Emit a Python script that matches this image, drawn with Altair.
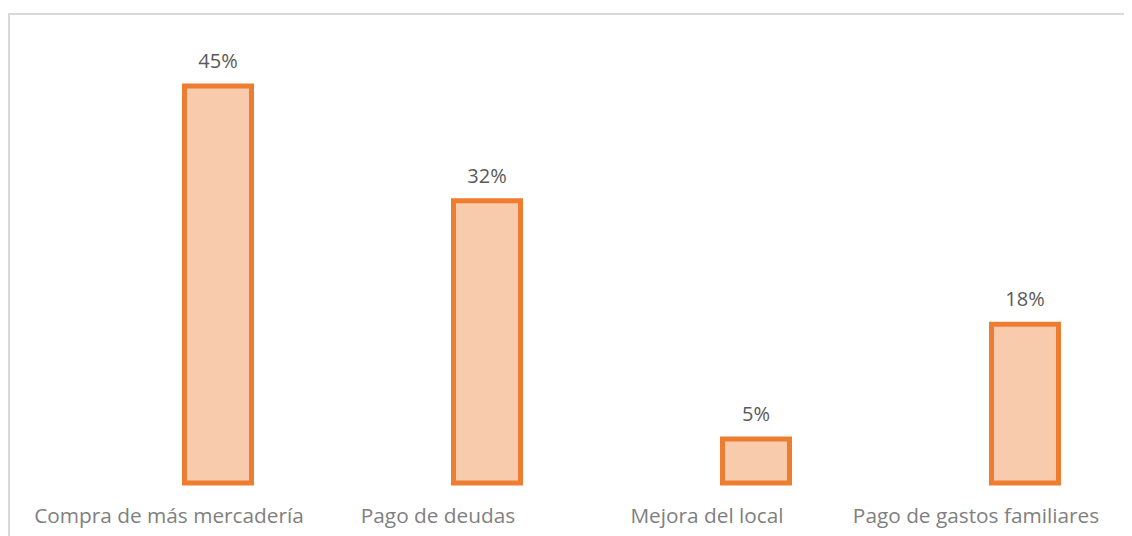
import altair as alt
import pandas as pd

categories = ["Compra de más mercadería", "Pago de deudas", "Mejora del local", "Pago de gastos familiares"]
values = [0.45, 0.32, 0.05, 0.18]
labels = ["45%", "32%", "5%", "18%"]

df = pd.DataFrame({"cat": categories, "val": values, "lab": labels})

x = alt.X("cat:N", sort=categories, title=None,
          scale=alt.Scale(paddingInner=0.751, paddingOuter=0.2435),
          axis=alt.Axis(labelAngle=0, ticks=False, domain=False, labelPadding=23,
                        labelOffset=-49,
                        labelFont="Open Sans", labelFontSize=20.8, labelColor="#7f7f7f",
                        labelLimit=400))
y = alt.Y("val:Q", scale=alt.Scale(domain=[0, 0.5]), axis=None)

bars = alt.Chart(df).mark_bar(fill="#f8cbad", stroke="#ed7d31", strokeWidth=5).encode(x=x, y=y)
text = alt.Chart(df).mark_text(dy=-24, font="Open Sans", fontSize=20, color="#595959").encode(
    x=x, y=y, text="lab:N")

border = alt.Chart(df).mark_rect(fill=None, stroke="#d9d9d9", strokeWidth=2).encode(
    x=alt.value(-110), x2=alt.value(1030), y=alt.value(-28), y2=alt.value(560))

chart = alt.layer(border, bars, text).properties(
    width=1005, height=441,
    autosize=alt.AutoSizeParams(type="none"),
    padding={"left": 111, "top": 34, "right": 0, "bottom": 53},
).configure_view(stroke=None)

chart.save("out.html", embed_options={"renderer": "svg", "actions": False})
